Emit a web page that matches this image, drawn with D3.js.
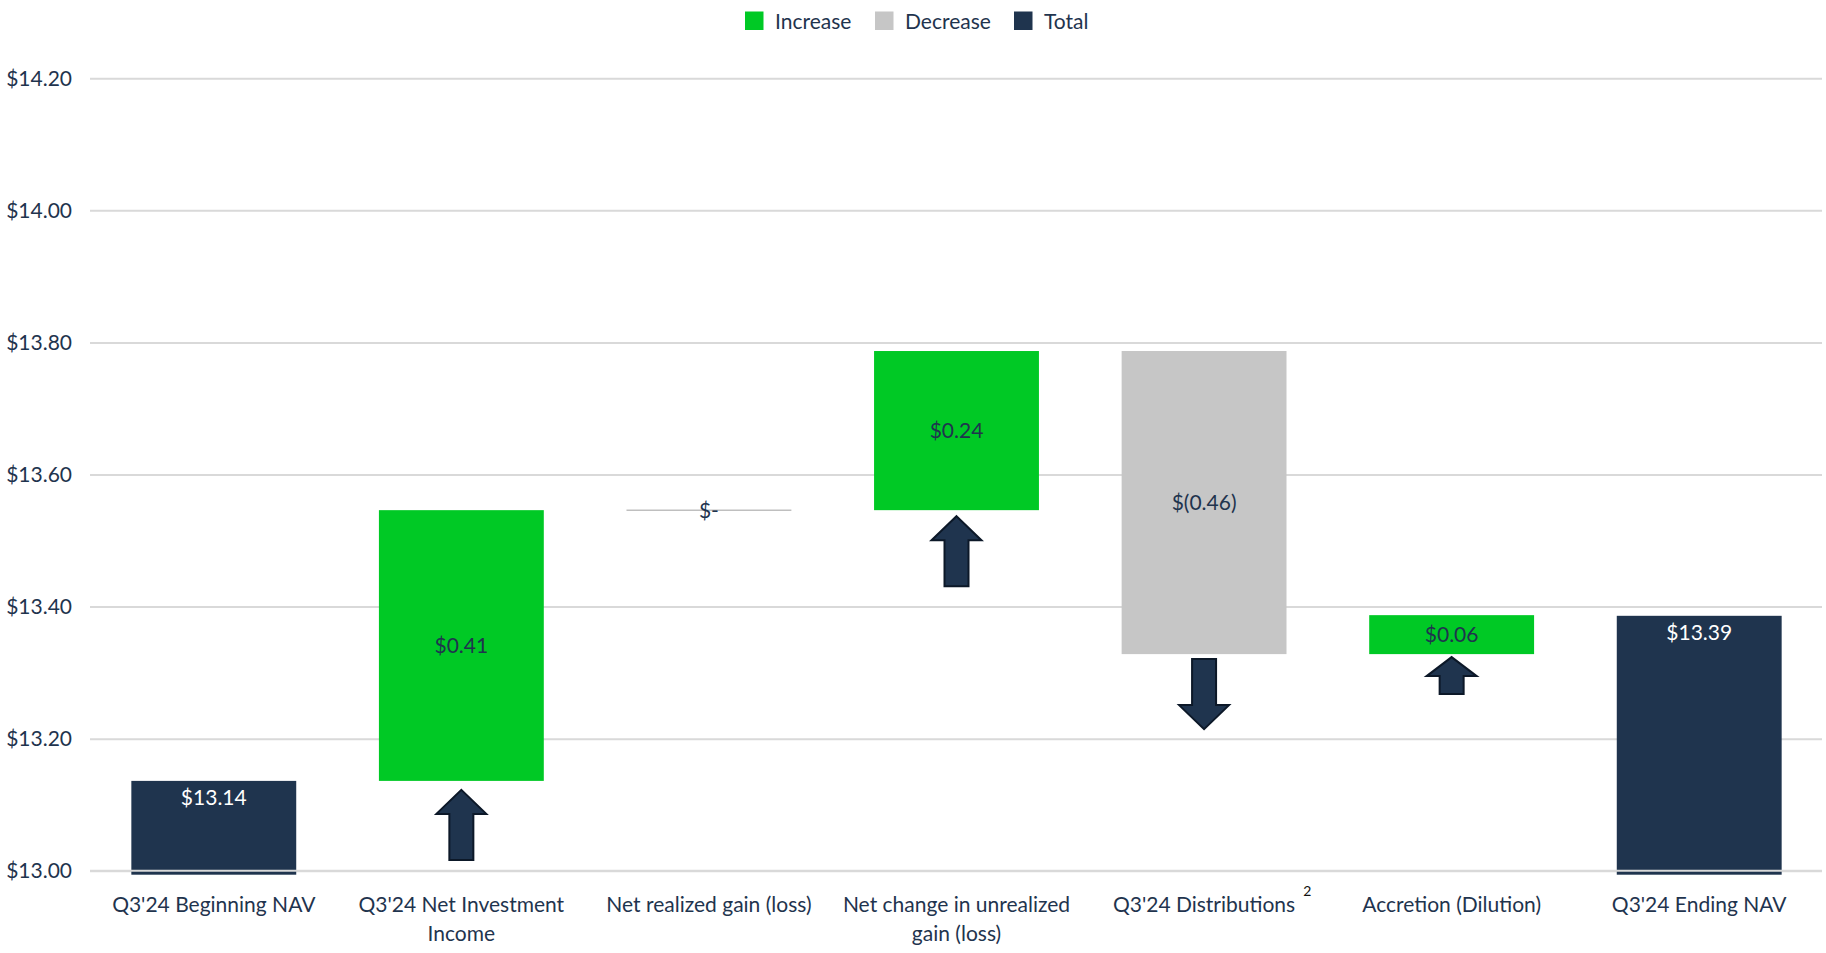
<!DOCTYPE html>
<html>
<head>
<meta charset="utf-8">
<script src="https://cdn.jsdelivr.net/npm/d3@7/dist/d3.min.js"></script>
<style>
  html, body { margin: 0; padding: 0; background: #ffffff; }
  svg { display: block; font-family: Lato, "Open Sans", sans-serif; }
</style>
</head>
<body>
<svg id="chart" width="1826" height="953"></svg>
<script>
// ---- data ----
const categories = [
  "Q3'24 Beginning NAV",
  "Q3'24 Net Investment Income",
  "Net realized gain (loss)",
  "Net change in unrealized gain (loss)",
  "Q3'24 Distributions",
  "Accretion (Dilution)",
  "Q3'24 Ending NAV"
];
const categoryLines = [
  ["Q3'24 Beginning NAV"],
  ["Q3'24 Net Investment", "Income"],
  ["Net realized gain (loss)"],
  ["Net change in unrealized", "gain (loss)"],
  ["Q3'24 Distributions"],
  ["Accretion (Dilution)"],
  ["Q3'24 Ending NAV"]
];
const values = [13.136, 0.41, 0, 0.241, -0.459, 0.059, 13.386];
const kinds = ["total", "increase", "increase", "increase", "decrease", "increase", "total"];
const valueLabels = ["$13.14", "$0.41", "$-", "$0.24", "$(0.46)", "$0.06", "$13.39"];
const yTicks = [13.0, 13.2, 13.4, 13.6, 13.8, 14.0, 14.2];
const legendItems = ["Increase", "Decrease", "Total"];
const superscripts = ["", "", "", "", "2", "", ""];

// ---- styles ----
const colors = { increase: "#00c925", decrease: "#c6c6c6", total: "#1f344e" };
const textColor = "#1f344e";
const gridColor = "#d9d9d9";
const fs = "21px";

(function () {
const svg = d3.select("#chart");
const mLeft = 90, mRight = 1823, mTop = 78.3, mBottom = 870.7;

const x = d3.scaleBand().domain(categories).range([mLeft, mRight]).paddingInner(0.334).paddingOuter(0.167);
const y = d3.scaleLinear().domain([13.0, 14.2]).range([mBottom, mTop]);

// compute waterfall segments
let running = 0;
const segs = categories.map((c, i) => {
  let y0, y1;
  if (kinds[i] === "total") { y0 = 13.0; y1 = values[i]; running = values[i]; }
  else { y0 = running; y1 = running + values[i]; running = y1; }
  return { c, i, lo: Math.min(y0, y1), hi: Math.max(y0, y1), kind: kinds[i], v: values[i] };
});

// gridlines + y labels
const yAxis = d3.axisLeft(y).tickValues(yTicks).tickSize(-(1822 - mLeft)).tickPadding(18)
  .tickFormat(d => "$" + d.toFixed(2));
const gy = svg.append("g").attr("transform", `translate(${mLeft},0)`).call(yAxis);
gy.select(".domain").remove();
gy.selectAll(".tick line").attr("stroke", gridColor).attr("stroke-width", 2);
gy.selectAll(".tick text").attr("fill", textColor).style("font-size", fs).style("font-family", "Lato, sans-serif");

// bars
svg.append("g").selectAll("rect").data(segs.filter(s => s.v !== 0)).join("rect")
  .attr("x", d => x(d.c))
  .attr("width", x.bandwidth())
  .attr("y", d => y(d.hi))
  .attr("height", d => y(d.lo) - y(d.hi) + (d.kind === "total" ? 4 : 0))
  .attr("fill", d => colors[d.kind]);

// redraw baseline grid over totals
svg.append("line").attr("x1", mLeft).attr("x2", 1822).attr("y1", y(13.0)).attr("y2", y(13.0))
  .attr("stroke", gridColor).attr("stroke-width", 2);

// zero line
svg.append("g").selectAll("line").data(segs.filter(s => s.v === 0)).join("line")
  .attr("x1", d => x(d.c)).attr("x2", d => x(d.c) + x.bandwidth())
  .attr("y1", d => y(d.hi)).attr("y2", d => y(d.hi))
  .attr("stroke", "#bfbfbf").attr("stroke-width", 1.5);

// value labels
svg.append("g").selectAll("text").data(segs).join("text")
  .attr("x", d => x(d.c) + x.bandwidth() / 2)
  .attr("y", d => d.kind === "total" ? y(d.hi) + 17 : (d.v === 0 ? y(d.hi) : (y(d.hi) + y(d.lo)) / 2))
  .attr("dy", "0.35em")
  .attr("text-anchor", "middle")
  .attr("fill", d => d.kind === "total" ? "#ffffff" : textColor)
  .style("font-size", fs)
  .text(d => valueLabels[d.i]);

// arrows
function arrowPath(cx, yStart, len, headH, dir) {
  const hw = 25, sw = 12;
  if (dir === "up") {
    const tip = yStart, base = yStart + headH, end = yStart + len;
    return `M${cx},${tip} L${cx + hw},${base} L${cx + sw},${base} L${cx + sw},${end} L${cx - sw},${end} L${cx - sw},${base} L${cx - hw},${base} Z`;
  } else {
    const st = yStart, base = yStart + len - headH, tip = yStart + len;
    return `M${cx - sw},${st} L${cx + sw},${st} L${cx + sw},${base} L${cx + hw},${base} L${cx},${tip} L${cx - hw},${base} L${cx - sw},${base} Z`;
  }
}
const arrowCfg = { 1: { gap: 9, len: 70, head: 24 }, 3: { gap: 6, len: 70, head: 24 }, 4: { gap: 5, len: 70, head: 24 }, 5: { gap: 3, len: 37, head: 19 } };
svg.append("g").selectAll("path").data(segs.filter(s => s.kind !== "total" && s.v !== 0)).join("path")
  .attr("d", d => {
    const cfg = arrowCfg[d.i];
    return arrowPath(x(d.c) + x.bandwidth() / 2, y(d.lo) + cfg.gap, cfg.len, cfg.head, d.kind === "increase" ? "up" : "down");
  })
  .attr("fill", "#1f344e").attr("stroke", "#0c1828").attr("stroke-width", 2).attr("stroke-linejoin", "miter");

// x labels
const xl = svg.append("g").selectAll("text").data(categories).join("text")
  .attr("x", d => x(d) + x.bandwidth() / 2)
  .attr("y", 912)
  .attr("text-anchor", "middle")
  .attr("fill", textColor)
  .style("font-size", fs);
xl.each(function (d, i) {
  const t = d3.select(this);
  categoryLines[i].forEach((line, k) => {
    t.append("tspan").attr("x", x(d) + x.bandwidth() / 2).attr("dy", k === 0 ? 0 : 29).text(line);
  });
});
// superscripts
xl.each(function (d, i) {
  if (!superscripts[i]) return;
  const bb = this.getBBox();
  svg.append("text").attr("x", bb.x + bb.width + 8).attr("y", 896)
    .attr("fill", "#111").style("font-size", "14px").text(superscripts[i]);
});

// legend
const legX = [745, 875, 1014];
const lg = svg.append("g");
legendItems.forEach((name, i) => {
  const key = name.toLowerCase();
  lg.append("rect").attr("x", legX[i]).attr("y", 11.5).attr("width", 18.5).attr("height", 18.5).attr("fill", colors[key]);
  lg.append("text").attr("x", legX[i] + 30).attr("y", 28.5).attr("fill", textColor)
    .style("font-size", fs).text(name);
});
})();
</script>
</body>
</html>
